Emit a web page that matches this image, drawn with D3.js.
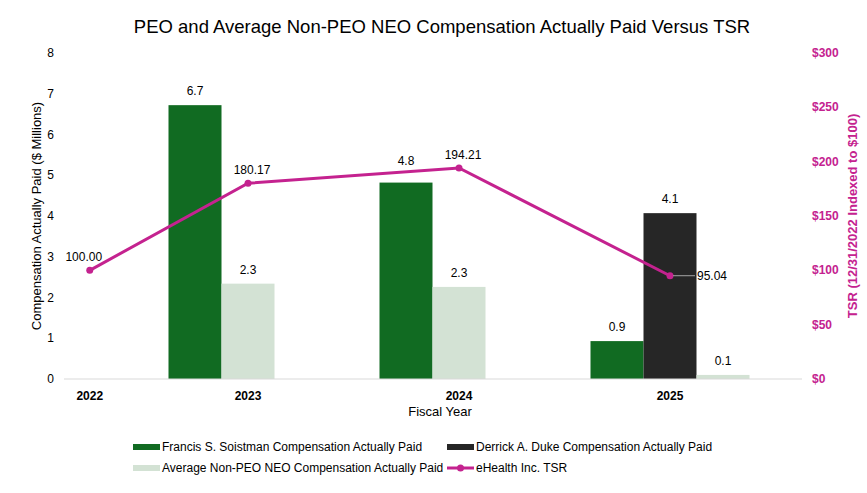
<!DOCTYPE html>
<html>
<head>
<meta charset="utf-8">
<script src="https://cdn.jsdelivr.net/npm/d3@7"></script>
<style>
  body { margin: 0; background: #fff; }
  svg { font-family: "Liberation Sans", Arial, sans-serif; }
</style>
</head>
<body>
<svg id="chart" width="867" height="493"></svg>
<script>
const years = ['2022', '2023', '2024', '2025'];
const barYears = ['2023', '2024', '2025'];
const soistman = [null, 6.72, 4.82, 0.93];
const duke = [null, null, null, 4.07];
const nonPeo = [null, 2.34, 2.26, 0.1];
const tsr = [100.0, 180.17, 194.21, 95.04];
const leftTicks = [0, 1, 2, 3, 4, 5, 6, 7, 8];
const rightTicks = [0, 50, 100, 150, 200, 250, 300];

const magenta = '#C4228F';
const series = [
    { name: 'Francis S. Soistman Compensation Actually Paid', values: soistman, color: '#116B22' },
    { name: 'Derrick A. Duke Compensation Actually Paid', values: duke, color: '#262626' },
    { name: 'Average Non-PEO NEO Compensation Actually Paid', values: nonPeo, color: '#D3E2D4' }
];

const svg = d3.select('#chart');
const plot = { left: 64, right: 802, top: 53, bottom: 379 };

const xBand = d3.scaleBand().domain(barYears).range([142.5, 775.5]);
// 2022 only carries the TSR base point, a quarter step before the first band
const xPos = year =>
    year === '2022'
        ? xBand.range()[0] - xBand.step() / 4
        : xBand(year) + xBand.bandwidth() / 2;

const barW = 53;
const yLeft = d3.scaleLinear().domain([0, 8]).range([plot.bottom, plot.top]);
const yRight = d3.scaleLinear().domain([0, 300]).range([plot.bottom, plot.top]);

const tsrPts = years.map((y, i) => ({ year: y, value: tsr[i] }));
// y of the TSR line at a given x, used to keep bar labels clear of it
const lineYAt = d3.scaleLinear()
    .domain(tsrPts.map(d => xPos(d.year)))
    .range(tsrPts.map(d => yRight(d.value)));

// title
svg.append('text')
    .attr('x', 442).attr('y', 33)
    .attr('text-anchor', 'middle')
    .style('font-size', '18.5px')
    .text('PEO and Average Non-PEO NEO Compensation Actually Paid Versus TSR');

// left axis labels
svg.append('g').selectAll('text')
    .data(leftTicks).join('text')
    .attr('x', 54).attr('y', d => yLeft(d) + 4)
    .attr('text-anchor', 'end')
    .style('font-size', '12px')
    .text(d => d);

svg.append('text')
    .attr('transform', `translate(41, ${(plot.top + plot.bottom) / 2}) rotate(-90)`)
    .attr('text-anchor', 'middle')
    .style('font-size', '13px')
    .text('Compensation Actually Paid ($ Millions)');

// right axis labels
svg.append('g').selectAll('text')
    .data(rightTicks).join('text')
    .attr('x', 812).attr('y', d => yRight(d) + 4)
    .style('font-size', '12px')
    .style('font-weight', 'bold')
    .style('fill', magenta)
    .text(d => '$' + d);

svg.append('text')
    .attr('transform', `translate(857, ${(plot.top + plot.bottom) / 2}) rotate(-90)`)
    .attr('text-anchor', 'middle')
    .style('font-size', '13px')
    .style('font-weight', 'bold')
    .style('fill', magenta)
    .text('TSR (12/31/2022 Indexed to $100)');

// bars: series with a value fill slots from the left of each group
const bars = [];
years.forEach((year, i) => {
    if (!barYears.includes(year)) return;
    const present = series.filter(s => s.values[i] != null);
    const start = xPos(year) - (series.length * barW) / 2;
    present.forEach((s, k) => {
        bars.push({ year, value: s.values[i], color: s.color, x: start + k * barW });
    });
});

svg.append('g').selectAll('rect')
    .data(bars).join('rect')
    .attr('x', d => d.x)
    .attr('y', d => yLeft(d.value))
    .attr('width', barW)
    .attr('height', d => plot.bottom - yLeft(d.value))
    .attr('fill', d => d.color);

const barLabelY = d => {
    const base = yLeft(d.value) - 10;
    const ly = lineYAt(d.x + barW / 2);
    return Math.abs(ly - (base - 4)) < 9 ? ly - 7 : base;
};

svg.append('g').selectAll('text')
    .data(bars).join('text')
    .attr('x', d => d.x + barW / 2)
    .attr('y', barLabelY)
    .attr('text-anchor', 'middle')
    .style('font-size', '12px')
    .text(d => d3.format('.1f')(d.value));

// baseline
svg.append('line')
    .attr('x1', plot.left).attr('x2', plot.right)
    .attr('y1', plot.bottom).attr('y2', plot.bottom)
    .attr('stroke', '#D9D9D9').attr('stroke-width', 1);

// x labels
svg.append('g').selectAll('text')
    .data(years).join('text')
    .attr('x', d => xPos(d)).attr('y', 400)
    .attr('text-anchor', 'middle')
    .style('font-size', '12px')
    .style('font-weight', 'bold')
    .text(d => d);

svg.append('text')
    .attr('x', 440).attr('y', 416)
    .attr('text-anchor', 'middle')
    .style('font-size', '13px')
    .text('Fiscal Year');

// TSR line
svg.append('path')
    .datum(tsrPts)
    .attr('fill', 'none')
    .attr('stroke', magenta)
    .attr('stroke-width', 3)
    .attr('d', d3.line().x(d => xPos(d.year)).y(d => yRight(d.value)));

svg.append('g').selectAll('circle')
    .data(tsrPts).join('circle')
    .attr('cx', d => xPos(d.year))
    .attr('cy', d => yRight(d.value))
    .attr('r', 3.5)
    .attr('fill', magenta);

const lastIdx = tsrPts.length - 1;
svg.append('g').selectAll('text')
    .data(tsrPts).join('text')
    .attr('x', (d, i) => i === lastIdx ? xPos(d.year) + 27 : xPos(d.year) + (i === 0 ? -6 : 4))
    .attr('y', (d, i) => i === lastIdx ? yRight(d.value) + 4 : yRight(d.value) - 9)
    .attr('text-anchor', (d, i) => i === lastIdx ? 'start' : 'middle')
    .style('font-size', '12px')
    .text(d => d3.format('.2f')(d.value));

// leader line for the last label
const last = tsrPts[lastIdx];
svg.append('line')
    .attr('x1', xPos(last.year) + 3).attr('x2', xPos(last.year) + 25)
    .attr('y1', yRight(last.value)).attr('y2', yRight(last.value))
    .attr('stroke', '#A6A6A6').attr('stroke-width', 1);

// legend
const legendItems = [
    { label: series[0].name, color: series[0].color, type: 'bar', x: 133, y: 447 },
    { label: series[1].name, color: series[1].color, type: 'bar', x: 447, y: 447 },
    { label: series[2].name, color: series[2].color, type: 'bar', x: 133, y: 468 },
    { label: 'eHealth Inc. TSR', color: magenta, type: 'line', x: 447, y: 468 }
];

const legend = svg.append('g').selectAll('g')
    .data(legendItems).join('g')
    .attr('transform', d => `translate(${d.x}, ${d.y})`);

legend.filter(d => d.type === 'bar').append('rect')
    .attr('x', 0).attr('y', -3).attr('width', 27).attr('height', 6)
    .attr('fill', d => d.color);

legend.filter(d => d.type === 'line').append('line')
    .attr('x1', 0).attr('x2', 27).attr('y1', 0).attr('y2', 0)
    .attr('stroke', d => d.color).attr('stroke-width', 3);

legend.filter(d => d.type === 'line').append('circle')
    .attr('cx', 13.5).attr('cy', 0).attr('r', 3.5)
    .attr('fill', d => d.color);

legend.append('text')
    .attr('x', 29).attr('y', 4)
    .style('font-size', '12px')
    .text(d => d.label);
</script>
</body>
</html>
